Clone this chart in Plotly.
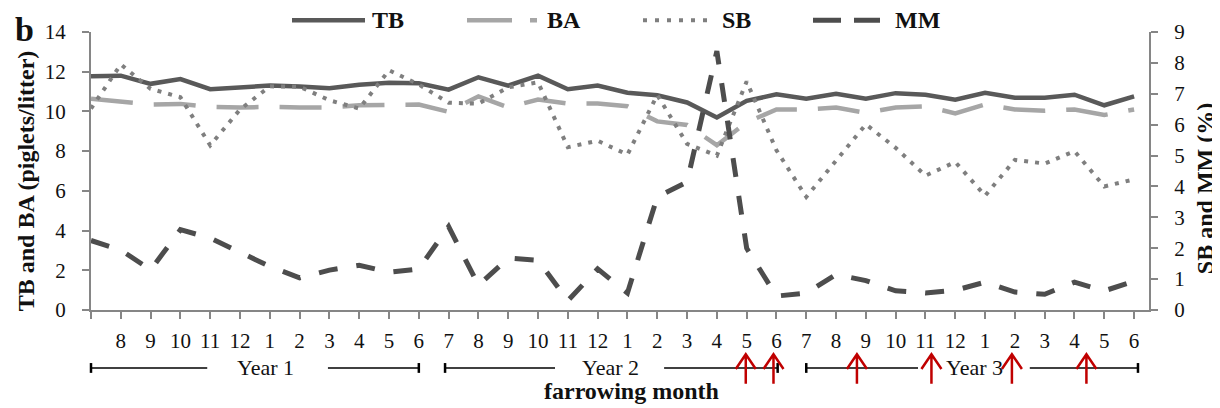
import plotly.graph_objects as go

# ---------------- data ----------------
months = ['', '8', '9', '10', '11', '12', '1', '2', '3', '4', '5', '6',
          '7', '8', '9', '10', '11', '12', '1', '2', '3', '4', '5', '6',
          '7', '8', '9', '10', '11', '12', '1', '2', '3', '4', '5', '6']

TB = [11.77, 11.80, 11.39, 11.63, 11.12, 11.22, 11.30, 11.25, 11.17, 11.34, 11.45, 11.42,
      11.10, 11.72, 11.30, 11.80, 11.12, 11.30, 10.94, 10.81, 10.45, 9.70, 10.53, 10.86,
      10.64, 10.89, 10.64, 10.92, 10.84, 10.59, 10.94, 10.69, 10.69, 10.84, 10.31, 10.76]

BA = [10.64, 10.48, 10.35, 10.38, 10.23, 10.20, 10.23, 10.20, 10.20, 10.31, 10.35, 10.35,
      9.98, 10.76, 10.20, 10.60, 10.40, 10.40, 10.26, 9.50, 9.32, 8.30, 9.45, 10.10,
      10.10, 10.20, 9.93, 10.20, 10.26, 9.90, 10.35, 10.10, 10.03, 10.10, 9.82, 10.10]

SB = [6.52, 7.95, 7.16, 6.89, 5.33, 6.49, 7.24, 7.23, 6.79, 6.52, 7.76, 7.30,
      6.71, 6.68, 7.21, 7.37, 5.27, 5.48, 5.03, 6.96, 5.38, 5.00, 7.40, 5.17,
      3.66, 4.86, 6.01, 5.25, 4.35, 4.79, 3.70, 4.86, 4.74, 5.14, 4.00, 4.23]

MM = [2.25, 1.94, 1.30, 2.60, 2.33, 1.86, 1.41, 1.04, 1.29, 1.45, 1.22, 1.33,
      2.70, 0.80, 1.68, 1.61, 0.30, 1.33, 0.55, 3.66, 4.14, 8.38, 2.00, 0.45,
      0.55, 1.15, 0.95, 0.62, 0.55, 0.64, 0.90, 0.58, 0.51, 0.90, 0.62, 0.93]

year_labels = ['Year 1', 'Year 2', 'Year 3']
arrow_idx = [21.97, 22.9, 25.7, 28.2, 30.9, 33.4]

x = list(range(len(months)))

# ---------------- styles ----------------
FONT = 'Liberation Serif'
C_TB, C_BA, C_SB, C_MM = '#595959', '#a6a6a6', '#7f7f7f', '#4d4d4d'
XMAX = 35.5
W_PLOT = 1058.0
H_PLOT = 283.0


def px_x(p):
    """viewport pixel x -> paper x"""
    return (p - 91) / W_PLOT


def px_y(p):
    """viewport pixel y -> paper y"""
    return (310 - p) / H_PLOT


def ix(i):
    """category index -> paper x"""
    return i / XMAX


fig = go.Figure()
fig.add_trace(go.Scatter(x=x, y=TB, mode='lines', name='TB',
                         line=dict(color=C_TB, width=4.5)))
fig.add_trace(go.Scatter(x=x, y=BA, mode='lines', name='BA',
                         line=dict(color=C_BA, width=4.5, dash='42px,21px')))
fig.add_trace(go.Scatter(x=x, y=SB, mode='lines', name='SB', yaxis='y2',
                         line=dict(color=C_SB, width=4, dash='4px,7px')))
fig.add_trace(go.Scatter(x=x, y=MM, mode='lines', name='MM', yaxis='y2',
                         line=dict(color=C_MM, width=5, dash='19px,19px')))

shapes = []
annotations = []

# manual legend
legend_items = [
    ('TB', C_TB, 4.5, 'solid', 292, 365, 370),
    ('BA', C_BA, 4.5, '45px,18px', 467, 537, 545),
    ('SB', C_SB, 4, '4px,8px', 643, 707, 720),
    ('MM', C_MM, 5, '28px,13px', 813, 880, 893),
]
for name, col, w, dash, x0, x1, tx in legend_items:
    shapes.append(dict(type='line', xref='paper', yref='paper',
                       x0=px_x(x0), x1=px_x(x1), y0=px_y(15), y1=px_y(15),
                       line=dict(color=col, width=w, dash=dash)))
    annotations.append(dict(xref='paper', yref='paper', x=px_x(tx), y=px_y(15),
                            xanchor='left', yanchor='middle', showarrow=False,
                            text='<b>%s</b>' % name,
                            font=dict(family=FONT, size=24, color='#111')))

# year brackets
brackets = [
    (0.0, 3.9, 7.95, 11.0, 5.87),
    (11.88, 15.57, 19.23, 23.04, 17.42),
    (24.0, 27.75, 31.5, 35.13, 29.66),
]
yb = px_y(369)
for (a, b, c, d, t), lab in zip(brackets, year_labels):
    for s0, s1 in [(a, b), (c, d)]:
        shapes.append(dict(type='line', xref='paper', yref='paper',
                           x0=ix(s0), x1=ix(s1), y0=yb, y1=yb,
                           line=dict(color='black', width=1.5)))
    for e in (a, d):
        shapes.append(dict(type='line', xref='paper', yref='paper',
                           x0=ix(e), x1=ix(e), y0=px_y(364), y1=px_y(374),
                           line=dict(color='black', width=2.5)))
    annotations.append(dict(xref='paper', yref='paper', x=ix(t), y=yb,
                            xanchor='center', yanchor='middle', showarrow=False,
                            text=lab, font=dict(family=FONT, size=22, color='#111')))

# red arrows
hw = 10 / W_PLOT
for a in arrow_idx:
    xa = ix(a)
    path = 'M %f,%f L %f,%f M %f,%f L %f,%f L %f,%f' % (
        xa, px_y(385), xa, px_y(355),
        xa - hw, px_y(370), xa, px_y(355), xa + hw, px_y(370))
    shapes.append(dict(type='path', xref='paper', yref='paper', path=path,
                       line=dict(color='#c00000', width=2.5)))

# titles / labels
annotations += [
    dict(xref='paper', yref='paper', x=px_x(26), y=px_y(179), textangle=-90,
         xanchor='center', yanchor='middle', showarrow=False,
         text='<b>TB and BA (piglets/litter)</b>',
         font=dict(family=FONT, size=24, color='#111')),
    dict(xref='paper', yref='paper', x=px_x(1205), y=px_y(187), textangle=-90,
         xanchor='center', yanchor='middle', showarrow=False,
         text='<b>SB and MM (%)</b>',
         font=dict(family=FONT, size=24, color='#111')),
    dict(xref='paper', yref='paper', x=px_x(631), y=px_y(392),
         xanchor='center', yanchor='middle', showarrow=False,
         text='<b>farrowing month</b>',
         font=dict(family=FONT, size=24, color='#111')),
    dict(xref='paper', yref='paper', x=px_x(24), y=px_y(24),
         xanchor='center', yanchor='middle', showarrow=False,
         text='<b>b</b>',
         font=dict(family=FONT, size=34, color='#111')),
]

axis_common = dict(showline=True, linecolor='#868686', linewidth=2,
                   ticks='outside', ticklen=7, tickwidth=2, tickcolor='#868686',
                   showgrid=False, zeroline=False,
                   tickfont=dict(family=FONT, size=21, color='#111'))

# the page body has an 8px margin: figure is placed at (8, 8) in the window
fig.update_layout(
    width=1212, height=400,
    margin=dict(l=83, r=71, t=19, b=98),
    paper_bgcolor='white', plot_bgcolor='white',
    showlegend=False,
    xaxis=dict(range=[0, XMAX], tickmode='array', tickvals=x, ticktext=months,
               ticklabelstandoff=4, **axis_common),
    yaxis=dict(range=[0, 14], dtick=2, ticklabelstandoff=12, **axis_common),
    yaxis2=dict(range=[0, 9], dtick=1, overlaying='y', side='right',
                ticklabelstandoff=12, **axis_common),
    shapes=shapes,
    annotations=annotations,
)

fig.write_html('out.html')
